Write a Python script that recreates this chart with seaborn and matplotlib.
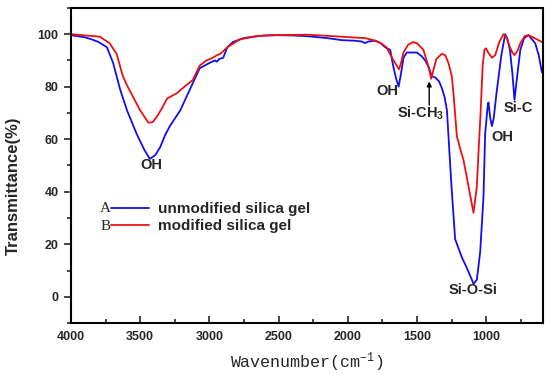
"""FTIR spectra of unmodified and modified silica gel."""

import matplotlib
matplotlib.use("Agg")
import matplotlib.pyplot as plt
import pandas as pd
import seaborn as sns
from matplotlib.ticker import MultipleLocator

# curve A: unmodified silica gel (wavenumber, transmittance %)
wn_a = [4000, 3900, 3850, 3800, 3740, 3695, 3645, 3595, 3525, 3470, 3430, 3390,
        3355, 3320, 3285, 3210, 3140, 3070, 3000, 2960, 2945, 2930, 2900, 2870,
        2830, 2750, 2685, 2600, 2525, 2400, 2290, 2150, 2040, 1950, 1900, 1875,
        1850, 1800, 1760, 1730, 1693, 1670, 1650, 1632, 1615, 1597, 1573, 1537,
        1500, 1464, 1440, 1416, 1392, 1368, 1340, 1320, 1300, 1283, 1265, 1250,
        1224, 1175, 1139, 1103, 1091, 1067, 1043, 1019, 1007, 990, 983, 970, 958,
        945, 925, 890, 862, 845, 828, 810, 795, 780, 753, 725, 693, 645, 620, 597]
t_a = [99.6, 98.8, 98.0, 97.0, 95.0, 89.0, 79.0, 71.0, 62.0, 56.0, 52.5, 54.0,
       57.0, 61.5, 65.0, 71.0, 79.0, 87.0, 89.0, 90.0, 89.5, 90.5, 91.0, 95.0,
       97.0, 98.5, 99.0, 99.5, 99.6, 99.5, 99.2, 98.5, 97.7, 97.5, 97.2, 96.6,
       97.2, 97.5, 96.5, 95.0, 94.0, 87.5, 83.0, 80.0, 85.0, 91.0, 93.0, 93.0,
       93.0, 91.5, 90.0, 87.5, 84.0, 83.5, 82.0, 79.5, 76.0, 71.0, 55.0, 42.0,
       22.0, 15.0, 11.0, 6.5, 5.0, 6.5, 17.0, 38.0, 62.0, 72.0, 74.0, 68.0, 65.0,
       68.0, 77.5, 92.0, 100.0, 98.0, 94.0, 85.0, 75.0, 82.0, 94.0, 98.5, 99.6,
       96.5, 92.0, 85.5]

# curve B: modified silica gel
wn_b = [4000, 3900, 3850, 3790, 3720, 3670, 3625, 3590, 3550, 3500, 3440, 3410,
        3380, 3340, 3305, 3270, 3235, 3180, 3120, 3070, 3020, 2975, 2945, 2920,
        2870, 2780, 2650, 2525, 2290, 2040, 1950, 1875, 1800, 1760, 1720, 1680,
        1657, 1630, 1615, 1597, 1563, 1527, 1498, 1453, 1416, 1397, 1380, 1360,
        1320, 1295, 1272, 1248, 1236, 1211, 1185, 1163, 1127, 1091, 1067, 1055,
        1040, 1025, 1012, 1001, 985, 958, 934, 905, 874, 855, 828, 810, 795, 775,
        753, 720, 693, 650, 597]
t_b = [100.0, 99.5, 99.3, 99.0, 96.5, 92.5, 84.0, 80.0, 76.0, 71.0, 66.3, 66.5,
       68.5, 72.0, 75.5, 76.5, 77.5, 80.0, 82.5, 88.0, 90.0, 91.0, 92.0, 92.5,
       95.0, 98.0, 99.3, 99.6, 99.8, 99.0, 98.7, 98.5, 97.5, 96.5, 95.0, 91.0,
       89.0, 86.6, 89.0, 93.0, 96.0, 97.0, 96.5, 94.0, 87.5, 83.0, 86.5, 90.5,
       92.5, 92.0, 89.0, 84.0, 77.5, 61.0, 56.0, 52.0, 42.0, 32.0, 42.0, 55.0,
       70.0, 88.0, 94.0, 94.6, 93.0, 91.0, 92.0, 97.0, 100.0, 99.0, 95.0, 93.0,
       92.0, 93.5, 96.5, 99.3, 99.6, 98.5, 97.0]

labels = ["unmodified silica gel", "modified silica gel"]
tags = ["A", "B"]
colors = ["#1010ee", "#ee1010"]

sns.set_style("ticks")
plt.rcParams["font.family"] = ["Liberation Sans", "DejaVu Sans"]
plt.rcParams["mathtext.default"] = "regular"

df_a = pd.DataFrame({"wn": wn_a, "t": t_a})
df_b = pd.DataFrame({"wn": wn_b, "t": t_b})

fig = plt.figure(figsize=(5.5, 3.74), dpi=100)
ax = fig.add_axes([0.129, 0.136, 0.858, 0.843])

sns.lineplot(data=df_a, x="wn", y="t", color=colors[0], lw=1.3, ax=ax,
             sort=False, label=labels[0])
sns.lineplot(data=df_b, x="wn", y="t", color=colors[1], lw=1.3, ax=ax,
             sort=False, label=labels[1])

ax.set_xlim(4000, 590)
ax.set_ylim(-10, 110)
ax.xaxis.set_major_locator(MultipleLocator(500))
ax.xaxis.set_minor_locator(MultipleLocator(250))
ax.yaxis.set_major_locator(MultipleLocator(20))
ax.yaxis.set_minor_locator(MultipleLocator(10))
ax.set_yticks([0, 20, 40, 60, 80, 100])
ax.tick_params(axis="x", which="major", direction="in", length=5, width=1.2, pad=6)
ax.tick_params(axis="x", which="minor", direction="in", length=3, width=1.2)
ax.tick_params(axis="y", which="major", direction="out", length=5, width=1.2, pad=4)
ax.tick_params(axis="y", which="minor", direction="out", length=3, width=1.2)
for lab in ax.get_xticklabels() + ax.get_yticklabels():
    lab.set_fontweight("bold")
    lab.set_fontsize(9)
for sp in ax.spines.values():
    sp.set_linewidth(1.5)
    sp.set_color("black")

ax.set_xlabel("Wavenumber(cm$^{-1}$)", family=["Liberation Mono"], fontsize=12,
              va="center")
ax.xaxis.set_label_coords(0.5, -0.124)
ax.set_ylabel("Transmittance(%)", fontweight="bold", fontsize=12, va="center")
ax.yaxis.set_label_coords(-0.121, 0.435)

# peak labels
kw = dict(fontsize=10.5, fontweight="bold", ha="center", va="center")
ax.text(3417, 50.2, "OH", **kw)
ax.text(1715, 78.5, "OH", **kw)
ax.text(1476, 70, "Si-CH$_3$", **kw)
ax.text(886, 60.8, "OH", **kw)
ax.text(771, 72, "Si-C", **kw)
ax.text(1097, 2.7, "Si-O-Si", **kw)
ax.annotate("", xy=(1411, 82), xytext=(1411, 73),
            arrowprops=dict(arrowstyle="-|>", color="black", lw=1,
                            mutation_scale=7, shrinkA=0, shrinkB=0))

leg = ax.legend(loc="center left", bbox_to_anchor=(0.085, 0.335), frameon=False,
                borderaxespad=0, borderpad=0, handlelength=2.5, handletextpad=0.6,
                labelspacing=0.2, prop=dict(weight="bold", size=11))
for h in leg.get_lines():
    h.set_linewidth(1.3)
ax.text(0.085, 0.365, tags[0], transform=ax.transAxes, ha="right", va="center",
        family=["Liberation Serif"], fontsize=11)
ax.text(0.085, 0.305, tags[1], transform=ax.transAxes, ha="right", va="center",
        family=["Liberation Serif"], fontsize=11)

fig.savefig("out.png", dpi=100)
